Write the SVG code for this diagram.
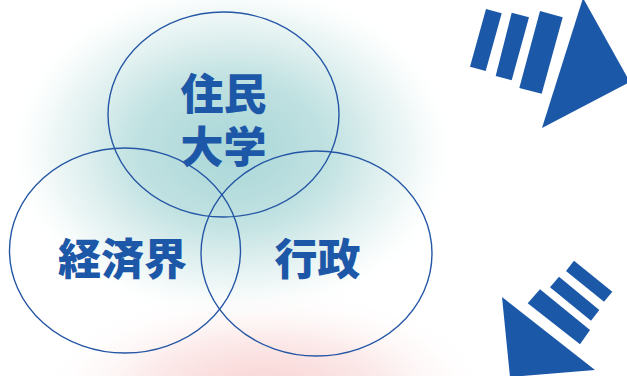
<svg xmlns="http://www.w3.org/2000/svg" width="627" height="376" viewBox="0 0 627 376">
  <defs>
    <radialGradient id="teal" cx="0.5" cy="0.5" r="0.5">
      <stop offset="0" stop-color="#a8d6d8"/>
      <stop offset="0.45" stop-color="#c2e2e2"/>
      <stop offset="0.8" stop-color="#e8f4f3" stop-opacity="0.75"/>
      <stop offset="1" stop-color="#ffffff" stop-opacity="0"/>
    </radialGradient>
    <radialGradient id="pink" cx="0.5" cy="0.5" r="0.5">
      <stop offset="0" stop-color="#f9d3d4"/>
      <stop offset="0.5" stop-color="#fce8e8"/>
      <stop offset="1" stop-color="#ffffff" stop-opacity="0"/>
    </radialGradient>
    <filter id="blur" x="-30%" y="-30%" width="160%" height="160%">
      <feGaussianBlur stdDeviation="8"/>
    </filter>
    <style>
      .ring { fill: none; stroke: #2456a5; stroke-width: 1.4; }
      .label { font-family: "Noto Sans CJK JP", "Noto Sans CJK SC", sans-serif; font-weight: 900; font-size: 43px; fill: #1d58a8; text-anchor: middle; }
      .mark { fill: #1b58a8; }
    </style>
  </defs>
  <rect width="627" height="376" fill="#ffffff"/>
  <g id="background" filter="url(#blur)">
    <ellipse cx="232" cy="150" rx="225" ry="170" fill="url(#teal)"/>
    <ellipse cx="265" cy="390" rx="230" ry="100" fill="url(#pink)"/>
  </g>
  <g id="node-residents">
    <ellipse class="ring" cx="223.5" cy="114.5" rx="115.5" ry="102.5"/>
    <text class="label"><tspan x="223.5" y="110">住民</tspan><tspan x="223.5" y="163">大学</tspan></text>
  </g>
  <g id="node-economy">
    <ellipse class="ring" cx="125" cy="250.5" rx="115.5" ry="102.5"/>
    <text class="label" x="122.5" y="275">経済界</text>
  </g>
  <g id="node-government">
    <ellipse class="ring" cx="316.5" cy="253.5" rx="115.5" ry="102.5"/>
    <text class="label" x="317.5" y="275">行政</text>
  </g>
  <g id="arrow-top">
    <polygon class="mark" points="486,9 501.7,13.3 485.7,71 470,66.7"/>
    <polygon class="mark" points="511.7,12.7 529,17.3 511.7,80.3 495.7,76"/>
    <polygon class="mark" points="540,11 562.7,17.3 541.7,93.7 519.3,88"/>
    <polygon class="mark" points="583,-2 630,82 542,128"/>
  </g>
  <g id="arrow-bottom">
    <polygon class="mark" points="574,260.7 612.3,291.7 604,301.7 566,271"/>
    <polygon class="mark" points="559,276.7 599.3,310 591,320.7 550,287.3"/>
    <polygon class="mark" points="540,289.3 590,330 580,344.3 527.7,303.3"/>
    <polygon class="mark" points="502,297 595,370 510,377"/>
  </g>
  <g id="connectors"></g>
</svg>
